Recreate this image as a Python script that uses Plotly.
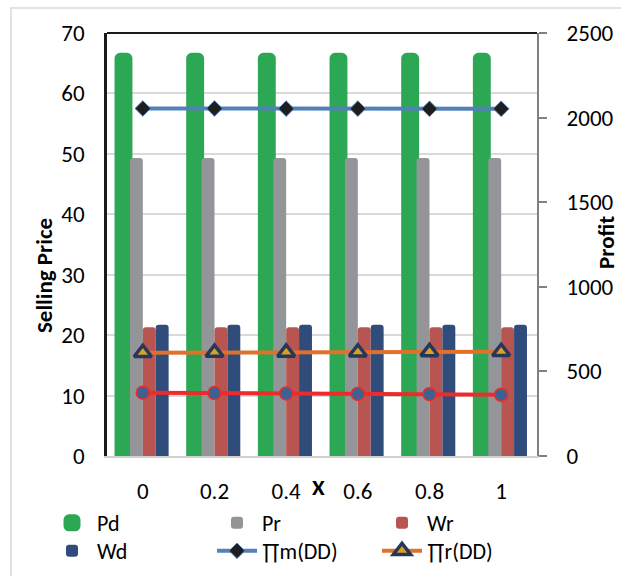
import plotly.graph_objects as go

categories = ["0", "0.2", "0.4", "0.6", "0.8", "1"]
pd_vals = [66.3, 66.3, 66.3, 66.3, 66.3, 66.3]
pr_vals = [49.3, 49.3, 49.3, 49.3, 49.3, 49.3]
wr_vals = [21.3, 21.3, 21.3, 21.3, 21.3, 21.3]
wd_vals = [21.7, 21.7, 21.7, 21.7, 21.7, 21.7]
pim_vals = [2054, 2054, 2053, 2053, 2052, 2052]
pir_vals = [610, 611, 612, 613, 615, 616]
pis_vals = [374, 372, 370, 367, 365, 362]

FONT = "Carlito, Lato, 'Liberation Sans', sans-serif"
FS = 23
W, H = 621, 576
L, R, T, B = 107, 84, 33, 120
PW, PH = W - L - R, H - T - B

def px(x):
    return (x - L) / PW

def py(y):
    return (H - B - y) / PH

fig = go.Figure()
fig.add_trace(go.Bar(name="Pd", x=categories, y=pd_vals, legend="legend",
                     marker=dict(color="#2CA855", line=dict(color="#2CA855", width=5))))
fig.add_trace(go.Bar(name="Pr", x=categories, y=pr_vals, legend="legend",
                     marker=dict(color="#939598", line=dict(width=0))))
fig.add_trace(go.Bar(name="Wr", x=categories, y=wr_vals, legend="legend",
                     marker=dict(color="#B95551", line=dict(width=0))))
fig.add_trace(go.Bar(name="Wd", x=categories, y=wd_vals, legend="legend2",
                     marker=dict(color="#2F4C7B", line=dict(width=0))))
fig.add_trace(go.Scatter(name="∏m(DD)", x=categories, y=pim_vals, yaxis="y2",
                         mode="lines+markers", legend="legend2",
                         line=dict(color="#5181B8", width=4),
                         marker=dict(symbol="diamond", size=12, color="#1E1E1E",
                                     line=dict(color="#5181B8", width=1))))
fig.add_trace(go.Scatter(name="∏r(DD)", x=categories, y=pir_vals, yaxis="y2",
                         mode="lines+markers", legend="legend2",
                         line=dict(color="#E0712B", width=4),
                         marker=dict(symbol="triangle-up", size=15, color="#D9A21E",
                                     line=dict(color="#27375C", width=3.5))))
fig.add_trace(go.Scatter(name="∏s(DD)", x=categories, y=pis_vals, yaxis="y2",
                         mode="lines+markers", showlegend=False,
                         line=dict(color="#EE2B2B", width=4),
                         marker=dict(symbol="circle", size=13, color="#3F6192",
                                     line=dict(color="#EE2B2B", width=1.5))))

legend_common = dict(orientation="h", xanchor="left", yanchor="top",
                     entrywidth=110, entrywidthmode="pixels", traceorder="normal",
                     font=dict(size=22), bgcolor="rgba(0,0,0,0)", itemwidth=40)

fig.update_layout(
    width=W, height=H,
    margin=dict(l=L, r=R, t=T, b=B, autoexpand=False),
    paper_bgcolor="white", plot_bgcolor="white",
    font=dict(family=FONT, size=FS, color="#000000"),
    barmode="group", bargap=0.28, bargroupgap=0,
    barcornerradius=3,
    xaxis=dict(type="category", showgrid=False, showline=True, linecolor="#D0D0D0",
               linewidth=2, ticks="", ticklabelstandoff=13,
               tickfont=dict(size=FS)),
    yaxis=dict(range=[0, 70], dtick=10, showgrid=True, gridcolor="#D9D9D9", gridwidth=1.5,
               showline=True, linecolor="#1A1A1A", linewidth=2.5, ticks="",
               ticklabelstandoff=15, tickfont=dict(size=FS), zeroline=False),
    yaxis2=dict(range=[0, 2500], dtick=500, overlaying="y", side="right",
                showgrid=False, showline=True, linecolor="#808080", linewidth=2,
                ticks="outside", ticklen=8, tickcolor="#808080", tickwidth=1.5,
                ticklabelstandoff=15, tickfont=dict(size=FS), zeroline=False),
    legend=dict(x=px(47), y=py(502), **legend_common),
    legend2=dict(x=px(47), y=py(530), **legend_common),
    showlegend=True,
)

shapes = [
    dict(type="line", xref="paper", yref="paper", x0=0, x1=1, y0=1, y1=1,
         line=dict(color="#1A1A1A", width=2)),
    dict(type="rect", xref="paper", yref="paper", x0=px(11), x1=px(640), y0=py(8), y1=py(600),
         line=dict(color="#D9D9D9", width=1.5), fillcolor="rgba(0,0,0,0)", layer="below"),
]
fig.update_layout(shapes=shapes)

fig.add_annotation(text="<b>Selling Price</b>", xref="paper", yref="paper",
                   x=px(44), y=py(276), textangle=-90, showarrow=False,
                   font=dict(size=FS), xanchor="center", yanchor="middle")
fig.add_annotation(text="<b>Profit</b>", xref="paper", yref="paper",
                   x=px(606), y=py(243), textangle=-90, showarrow=False,
                   font=dict(size=FS), xanchor="center", yanchor="middle")
fig.add_annotation(text="<b>X</b>", xref="paper", yref="paper",
                   x=px(318), y=py(487), showarrow=False,
                   font=dict(size=FS), xanchor="center", yanchor="middle")

fig.write_html("out.html", config={"displayModeBar": False},
               post_script="document.body.style.margin='0';document.body.style.overflow='hidden';")
